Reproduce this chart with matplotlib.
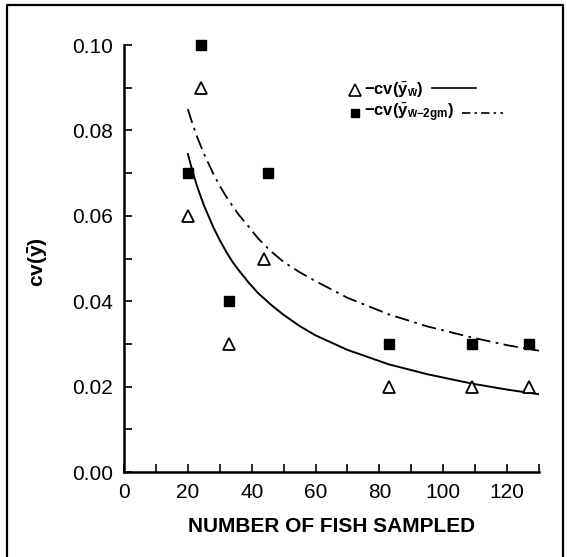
import matplotlib
matplotlib.use("Agg")
import matplotlib.pyplot as plt
from matplotlib.lines import Line2D
from matplotlib.ticker import MultipleLocator

plt.rcParams['font.family'] = ['Liberation Sans', 'DejaVu Sans']
plt.rcParams['mathtext.fontset'] = 'custom'
plt.rcParams['mathtext.rm'] = 'Liberation Sans'
plt.rcParams['mathtext.bf'] = 'Liberation Sans:bold'
plt.rcParams['mathtext.it'] = 'Liberation Sans:italic'

n_fish = [20, 24, 33, 44, 83, 109, 127]
cv_w = [0.06, 0.09, 0.03, 0.05, 0.02, 0.02, 0.02]
n_fish_2gm = [20, 24, 33, 45, 83, 109, 127]
cv_w_2gm = [0.07, 0.10, 0.04, 0.07, 0.03, 0.03, 0.03]

# fitted curves, points
curve_n = [20, 21, 22, 23, 25, 28, 30, 32, 34, 36, 39, 42, 46, 50, 55, 60, 70,
           83, 95, 109, 120, 130]
curve_w = [0.0745, 0.0717, 0.0691, 0.0667, 0.0625, 0.0573, 0.0543, 0.0516,
           0.0492, 0.0472, 0.0444, 0.0419, 0.0392, 0.0368, 0.0342, 0.0320,
           0.0286, 0.0252, 0.0229, 0.0207, 0.0193, 0.0182]
curve_w_2gm = [0.0850, 0.0826, 0.0804, 0.0783, 0.0746, 0.0698, 0.0670, 0.0645,
               0.0623, 0.0602, 0.0575, 0.0547, 0.0517, 0.0492, 0.0468, 0.0447,
               0.0408, 0.0369, 0.0341, 0.0315, 0.0297, 0.0284]

W, H = 567, 557
fig = plt.figure(figsize=(W / 100, H / 100), dpi=100)
ax = fig.add_axes([124 / W, 1 - 472 / H, 415 / W, 427 / H])

# curves
ax.plot(curve_n, curve_w, color='black', lw=1.4, linestyle='-')
ax.plot(curve_n, curve_w_2gm, color='black', lw=1.3, dashes=(8, 3, 1.5, 3))

# points
ax.plot(n_fish, cv_w, linestyle='None', marker='^', ms=8.5, mfc='white',
        mec='black', mew=1.3, clip_on=False, zorder=5)
ax.plot(n_fish_2gm, cv_w_2gm, linestyle='None', marker='s', ms=6.5,
        mfc='black', mec='black', clip_on=False, zorder=5)

ax.set_xlim(0, 130)
ax.set_ylim(0, 0.10)
ax.yaxis.set_major_locator(MultipleLocator(0.02))
ax.yaxis.set_minor_locator(MultipleLocator(0.01))
ax.yaxis.set_major_formatter(plt.FuncFormatter(lambda v, p: f"{v:.2f}"))
ax.set_xticks([0, 20, 40, 60, 80, 100, 120])
ax.set_xticks([10, 30, 50, 70, 90, 110, 130], minor=True)

for s in ['top', 'right']:
    ax.spines[s].set_visible(False)
for s in ['left', 'bottom']:
    ax.spines[s].set_linewidth(1.8)

ax.tick_params(which='both', direction='in', length=6, width=1.2)
ax.tick_params(axis='both', which='major', pad=8, labelsize=15)

fig.text(332 / W, 1 - 526 / H, 'NUMBER OF FISH SAMPLED', fontsize=15,
         fontweight='bold', ha='center', va='center')
fig.text(38 / W, 1 - 262 / H, r'$\mathbf{cv(\bar{y})}$', fontsize=15,
         rotation=90, ha='center', va='center')

# legend drawn by hand: marker, text, then line sample
fig.add_artist(Line2D([355 / W], [1 - 90 / H], marker='^', ms=8, mfc='white',
                      mec='black', mew=1.2, linestyle='None'))
fig.text(364 / W, 1 - 90 / H, r'$\mathbf{-cv(}\bar{\mathbf{y}}_{\bar{\mathbf{w}}}\mathbf{)}$',
         fontsize=12, ha='left', va='center')
fig.add_artist(Line2D([432 / W, 476 / W], [1 - 88 / H, 1 - 88 / H],
                      color='black', lw=1.2))

fig.add_artist(Line2D([355 / W], [1 - 113 / H], marker='s', ms=6, mfc='black',
                      mec='black', linestyle='None'))
fig.text(364 / W, 1 - 113 / H,
         r'$\mathbf{-cv(}\bar{\mathbf{y}}_{\bar{\mathbf{w}}\mathbf{-2gm}}\mathbf{)}$',
         fontsize=12, ha='left', va='center')
fig.add_artist(Line2D([462 / W, 503 / W], [1 - 113 / H, 1 - 113 / H],
                      color='black', lw=1.2, dashes=(5, 2.5, 1.5, 2.5)))

# page frame
fig.add_artist(Line2D([7 / W, 7 / W, 563 / W, 563 / W], [0, 1 - 5 / H, 1 - 5 / H, 0],
                      color='black', lw=1.6))

fig.savefig('out.png', dpi=100)
